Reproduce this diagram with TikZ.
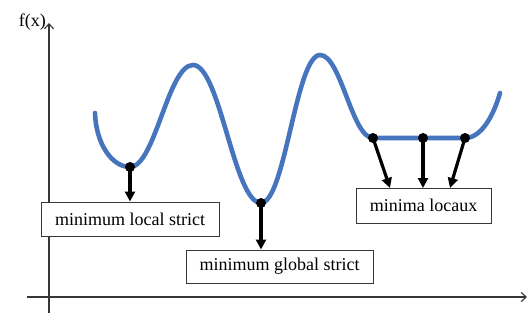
\documentclass[tikz,border=0pt]{standalone}
\usepackage{fontspec}
\setmainfont{Liberation Serif}
\usetikzlibrary{arrows.meta,calc}
\definecolor{curveblue}{RGB}{70,117,190}
\definecolor{axisgray}{RGB}{55,55,55}
\tikzset{
  axis/.style={draw=axisgray, line width=1.1pt, -{Straight Barb[length=5pt,width=9pt]}},
  curve/.style={draw=curveblue, line width=4.6pt, line cap=round},
  dot/.style={circle, fill=black, inner sep=0pt, minimum size=10pt},
  label box/.style={draw=axisgray, line width=1pt, fill=white, font=\fontsize{18}{20}\selectfont, inner sep=0pt},
  pointer/.style={draw=black, line width=3.2pt, -{Triangle[length=10pt,width=10pt]}},
}
\begin{document}
\begin{tikzpicture}[x=1pt,y=1pt]
\useasboundingbox (0,0) rectangle (528,322);
% axes
\coordinate (yb) at (49,9);
\coordinate (yt) at (49,299);
\coordinate (xl) at (27,25);
\coordinate (xr) at (527,25);
\draw[axis] (yb) -- (yt);
\draw[axis] (xl) -- (xr);
\node[anchor=east, font=\fontsize{18}{20}\selectfont, inner sep=0pt] (fx) at (46,300) {f(x)};
% curve
\draw[curve] (95,209) .. controls (96,178) and (112,155) .. (130,155)
  .. controls (155,155) and (168,257) .. (193,257)
  .. controls (220,257) and (234,119) .. (261,119)
  .. controls (285,119) and (296,267) .. (320,267)
  .. controls (341,267) and (352,184) .. (373,184)
  -- (465,184)
  .. controls (482,184) and (494,208) .. (500,229);
% points
\node[dot] (p1) at (130,155) {};
\node[dot] (p2) at (261,119) {};
\node[dot] (p3) at (373,184) {};
\node[dot] (p4) at (423,184) {};
\node[dot] (p5) at (465,184) {};
% boxes
\node[label box, minimum width=178pt, minimum height=34pt] (b1) at (130,103) {minimum local strict};
\node[label box, minimum width=187pt, minimum height=33pt] (b2) at (279.5,55.5) {minimum global strict};
\node[label box, minimum width=135pt, minimum height=35pt] (b3) at (423.5,116.5) {minima locaux};
% arrow ends
\coordinate (e3) at (390,134);
\coordinate (e4) at (423,134);
\coordinate (e5) at (450,134);
\draw[pointer] (p1.center) -- (p1.center |- b1.north);
\draw[pointer] (p2.center) -- (p2.center |- b2.north);
\draw[pointer] (p3.center) -- (e3);
\draw[pointer] (p4.center) -- (e4);
\draw[pointer] (p5.center) -- (e5);
\end{tikzpicture}
\end{document}
